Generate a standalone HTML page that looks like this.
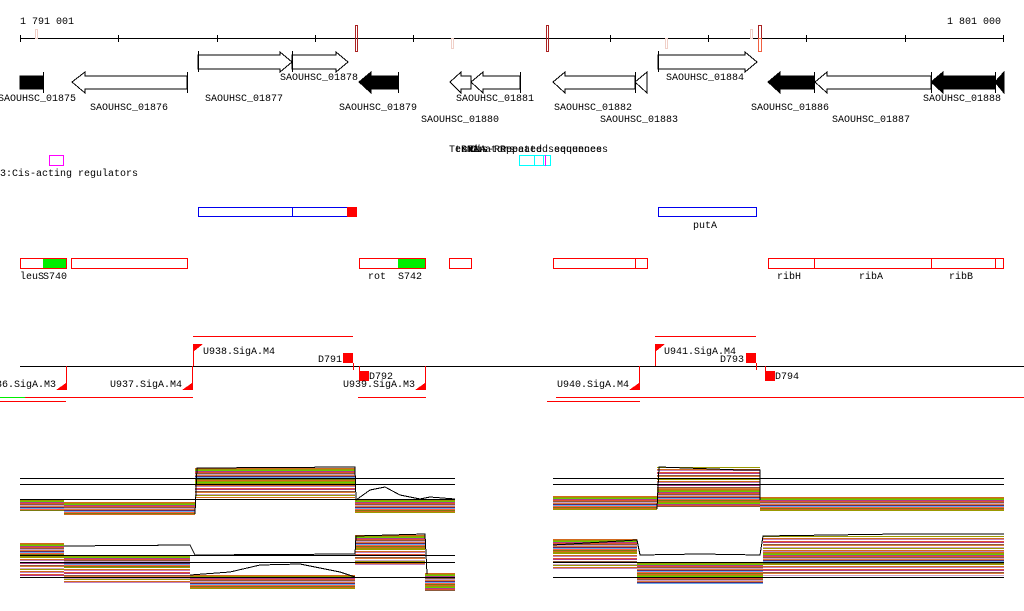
<!DOCTYPE html>
<html><head><meta charset="utf-8">
<style>
html,body{margin:0;padding:0;background:#fff;}
#w{position:relative;width:1024px;height:611px;overflow:hidden;}
svg{position:absolute;left:0;top:0;}
text{font-family:"Liberation Mono",monospace;font-size:10px;fill:#000;}
.b{position:absolute;}
.s1{background:repeating-linear-gradient(to bottom,#d2691e 0 1px,#9a9a00 1px 2px,#66cc00 2px 3px,#b03a8a 3px 4px,#e05030 4px 5px,#8b5a3c 5px 6px,#c8a0c8 6px 7px,#e07b39 7px 8px,#5a2a6a 8px 9px,#66aaee 9px 10px,#ff6040 10px 11px,#7a7a10 11px 12px);}
.s2{background:repeating-linear-gradient(to bottom,#9a9a00 0 1px,#fff 1px 2px,#d2691e 2px 3px,#c080c0 3px 4px,#fff 4px 5px,#e05030 5px 6px,#b03a8a 6px 7px,#fff 7px 8px,#8b5a3c 8px 9px,#e07b39 9px 10px,#fff 10px 11px,#c8a0c8 11px 12px);}
</style></head><body><div id="w">
<div class="b s1" style="left:20px;top:499px;width:44px;height:12px"></div>
<div class="b s1" style="left:64px;top:502px;width:131px;height:13px"></div>
<div class="b s1" style="left:195px;top:468px;width:160px;height:15px"></div>
<div class="b s2" style="left:195px;top:483px;width:160px;height:15px"></div>
<div class="b s1" style="left:355px;top:499px;width:100px;height:14px"></div>
<div class="b s1" style="left:553px;top:496px;width:104px;height:14px"></div>
<div class="b s2" style="left:657px;top:467px;width:103px;height:22px"></div>
<div class="b s1" style="left:657px;top:489px;width:103px;height:18px"></div>
<div class="b s1" style="left:760px;top:497px;width:244px;height:14px"></div>

<div class="b s1" style="left:20px;top:543px;width:44px;height:14px"></div>
<div class="b s2" style="left:20px;top:557px;width:44px;height:19px"></div>
<div class="b s1" style="left:64px;top:555px;width:126px;height:12px"></div>
<div class="b s2" style="left:64px;top:567px;width:126px;height:16px"></div>
<div class="b s1" style="left:190px;top:575px;width:165px;height:14px"></div>
<div class="b s1" style="left:355px;top:535px;width:70px;height:14px"></div>
<div class="b s2" style="left:355px;top:549px;width:70px;height:17px"></div>
<div class="b s1" style="left:425px;top:573px;width:30px;height:18px"></div>
<div class="b s1" style="left:553px;top:539px;width:84px;height:14px"></div>
<div class="b s2" style="left:553px;top:553px;width:84px;height:16px"></div>
<div class="b s1" style="left:637px;top:562px;width:126px;height:22px"></div>
<div class="b s2" style="left:763px;top:536px;width:241px;height:16px"></div>
<div class="b s1" style="left:763px;top:552px;width:241px;height:12px"></div>
<div class="b s2" style="left:763px;top:564px;width:241px;height:12px"></div>

<svg width="1024" height="611" viewBox="0 0 1024 611" shape-rendering="crispEdges">
<g stroke="#000" stroke-width="1">
<line x1="20" y1="478.5" x2="455" y2="478.5"/><line x1="20" y1="484.5" x2="455" y2="484.5"/><line x1="20" y1="499.5" x2="455" y2="499.5"/>
<line x1="553" y1="478.5" x2="1004" y2="478.5"/><line x1="553" y1="484.5" x2="1004" y2="484.5"/>
<line x1="20" y1="555.5" x2="455" y2="555.5"/><line x1="20" y1="562.5" x2="455" y2="562.5"/><line x1="20" y1="577.5" x2="455" y2="577.5"/>
<line x1="553" y1="562.5" x2="1004" y2="562.5"/><line x1="553" y1="577.5" x2="1004" y2="577.5"/>
<polyline fill="none" points="195,514 197,468 355,467 356,500"/>
<polyline fill="none" points="356,500 370,490 385,487 400,495 420,499 430,497 455,499"/>
<polyline fill="none" points="657,509 659,467 740,470 760,470 760,500"/>
<polyline fill="none" points="64,546 190,545 195,555 355,554 356,536 425,534 427,574"/>
<polyline fill="none" points="190,575 230,572 260,565 300,564 340,572 355,577"/>
<polyline fill="none" points="553,545 637,540 640,555 700,554 760,555 763,536 900,534 1004,534"/>
</g>
<line x1="20" y1="38.5" x2="1004" y2="38.5" stroke="#000"/>
<g stroke="#000"><line x1="20.5" y1="35" x2="20.5" y2="42"/><line x1="118.5" y1="35" x2="118.5" y2="42"/><line x1="217.5" y1="35" x2="217.5" y2="42"/><line x1="315.5" y1="35" x2="315.5" y2="42"/><line x1="413.5" y1="35" x2="413.5" y2="42"/><line x1="610.5" y1="35" x2="610.5" y2="42"/><line x1="708.5" y1="35" x2="708.5" y2="42"/><line x1="806.5" y1="35" x2="806.5" y2="42"/><line x1="905.5" y1="35" x2="905.5" y2="42"/><line x1="1003.5" y1="35" x2="1003.5" y2="42"/></g>
<text x="20" y="24">1 791 001</text><text x="1001" y="24" text-anchor="end">1 801 000</text>
<g fill="none" stroke="#f0d0c8"><rect x="35.5" y="29.5" width="2" height="9"/><rect x="451.5" y="38.5" width="2" height="10"/><rect x="665.5" y="38.5" width="2" height="10"/><rect x="750.5" y="29.5" width="2" height="9"/></g>
<g fill="none" stroke="#aa2222"><rect x="355.5" y="25.5" width="2" height="26"/><rect x="546.5" y="25.5" width="2" height="26"/><rect x="758.5" y="25.5" width="3" height="13"/></g>
<rect x="758.5" y="38.5" width="3" height="13" fill="none" stroke="#f06040"/>
<g stroke="#000" fill="#fff">
<polygon points="198,55 280,55 280,52 292,62 280,72 280,69 198,69"/>
<polygon points="292,55 336,55 336,52 348,62 336,72 336,69 292,69"/>
<polygon points="658,55 745,55 745,52 757,62 745,72 745,69 658,69"/>
<line x1="198.5" y1="51" x2="198.5" y2="72"/><line x1="292.5" y1="51" x2="292.5" y2="72"/><line x1="658.5" y1="51" x2="658.5" y2="72"/>
<polygon points="187,76 85,76 85,72 72,82 85,93 85,89 187,89"/>
<polygon points="471,76 461,76 461,72 450,82 461,93 461,89 471,89"/>
<polygon points="520,76 483,76 483,72 471,82 483,93 483,89 520,89"/>
<polygon points="635,76 565,76 565,72 553,82 565,93 565,89 635,89"/>
<polygon points="647,72 635,82 647,93"/>
<polygon points="931,76 827,76 827,72 815,82 827,93 827,89 931,89"/>
<line x1="187.5" y1="72" x2="187.5" y2="93"/><line x1="520.5" y1="72" x2="520.5" y2="93"/><line x1="635.5" y1="72" x2="635.5" y2="93"/><line x1="931.5" y1="72" x2="931.5" y2="93"/>
</g>
<g fill="#000" stroke="#000">
<rect x="20" y="76" width="23" height="13"/><line x1="43.5" y1="72" x2="43.5" y2="93"/>
<polygon points="398,76 371,76 371,72 359,82 371,93 371,89 398,89"/><line x1="398.5" y1="72" x2="398.5" y2="93"/>
<polygon points="814,76 780,76 780,72 768,82 780,93 780,89 814,89"/><line x1="814.5" y1="72" x2="814.5" y2="93"/>
<polygon points="995,76 943,76 943,72 931,82 943,93 943,89 995,89"/><line x1="995.5" y1="72" x2="995.5" y2="93"/>
<polygon points="1004,72 995,82 1004,93"/>
</g>
<text x="-2" y="101">SAOUHSC_01875</text><text x="90" y="110">SAOUHSC_01876</text><text x="205" y="101">SAOUHSC_01877</text><text x="280" y="80">SAOUHSC_01878</text><text x="339" y="110">SAOUHSC_01879</text><text x="421" y="122">SAOUHSC_01880</text><text x="456" y="101">SAOUHSC_01881</text><text x="554" y="110">SAOUHSC_01882</text><text x="600" y="122">SAOUHSC_01883</text><text x="666" y="80">SAOUHSC_01884</text><text x="751" y="110">SAOUHSC_01886</text><text x="832" y="122">SAOUHSC_01887</text><text x="923" y="101">SAOUHSC_01888</text>
<text x="449" y="152">Terminators</text><text x="455" y="152">tRNA</text><text x="462" y="152">sRNA</text><text x="470" y="152">Cis-Repeated sequences</text><text x="500" y="152">Repeated sequences</text>
<rect x="519.5" y="155.5" width="31" height="10" fill="none" stroke="#00ffff"/><line x1="534.5" y1="155" x2="534.5" y2="166" stroke="#00ffff"/><line x1="543.5" y1="155" x2="543.5" y2="166" stroke="#00ffff"/><line x1="545.5" y1="155" x2="545.5" y2="166" stroke="#ff00ff"/>
<rect x="49.5" y="155.5" width="14" height="10" fill="none" stroke="#ff00ff"/>
<text x="0" y="176">3:Cis-acting regulators</text>
<g fill="none" stroke="#0000ee"><rect x="198.5" y="207.5" width="158" height="9"/><line x1="292.5" y1="207" x2="292.5" y2="217"/><rect x="658.5" y="207.5" width="98" height="9"/></g>
<rect x="347" y="207" width="10" height="10" fill="#ff0000"/>
<text x="693" y="228">putA</text>
<rect x="43" y="258" width="24" height="11" fill="#00ee00"/><rect x="398" y="258" width="27" height="11" fill="#00ee00"/>
<g fill="none" stroke="#ff0000"><rect x="20.5" y="258.5" width="46" height="10"/><rect x="71.5" y="258.5" width="116" height="10"/><rect x="359.5" y="258.5" width="66" height="10"/><rect x="449.5" y="258.5" width="22" height="10"/><rect x="553.5" y="258.5" width="94" height="10"/><line x1="635.5" y1="258" x2="635.5" y2="269"/><rect x="768.5" y="258.5" width="235" height="10"/><line x1="814.5" y1="258" x2="814.5" y2="269"/><line x1="931.5" y1="258" x2="931.5" y2="269"/><line x1="995.5" y1="258" x2="995.5" y2="269"/></g>
<text x="20" y="279">leuS</text><text x="43" y="279">S740</text><text x="368" y="279">rot</text><text x="398" y="279">S742</text><text x="777" y="279">ribH</text><text x="859" y="279">ribA</text><text x="949" y="279">ribB</text>
<line x1="20" y1="366.5" x2="1024" y2="366.5" stroke="#000"/>
<g stroke="#ff0000"><line x1="193" y1="336.5" x2="353" y2="336.5"/><line x1="655" y1="336.5" x2="756" y2="336.5"/>
<line x1="25" y1="397.5" x2="193" y2="397.5"/><line x1="358" y1="397.5" x2="426" y2="397.5"/><line x1="556" y1="397.5" x2="1024" y2="397.5"/>
<line x1="0" y1="401.5" x2="66" y2="401.5"/><line x1="547" y1="401.5" x2="640" y2="401.5"/>
<line x1="193.5" y1="344" x2="193.5" y2="366"/><line x1="655.5" y1="344" x2="655.5" y2="366"/>
<line x1="66.5" y1="366" x2="66.5" y2="390"/><line x1="192.5" y1="366" x2="192.5" y2="390"/><line x1="425.5" y1="366" x2="425.5" y2="390"/><line x1="639.5" y1="366" x2="639.5" y2="390"/>
<line x1="353.5" y1="363" x2="353.5" y2="370"/><line x1="756.5" y1="363" x2="756.5" y2="370"/><line x1="359.5" y1="366" x2="359.5" y2="372"/><line x1="765.5" y1="366" x2="765.5" y2="372"/>
</g>
<line x1="0" y1="397.5" x2="25" y2="397.5" stroke="#00ee00"/>
<g fill="#ff0000"><polygon points="193,344 203,344 193,352"/><polygon points="655,344 665,344 655,352"/>
<polygon points="66,383 66,390 56,390"/><polygon points="192,383 192,390 182,390"/><polygon points="425,383 425,390 415,390"/><polygon points="639,383 639,390 629,390"/>
<rect x="343" y="353" width="10" height="10"/><rect x="746" y="353" width="10" height="10"/><rect x="359" y="371" width="10" height="10"/><rect x="765" y="371" width="10" height="10"/></g>
<text x="203" y="354">U938.SigA.M4</text><text x="664" y="354">U941.SigA.M4</text>
<text x="318" y="362">D791</text><text x="720" y="362">D793</text><text x="369" y="379">D792</text><text x="775" y="379">D794</text>
<text x="56" y="387" text-anchor="end">36.SigA.M3</text><text x="182" y="387" text-anchor="end">U937.SigA.M4</text><text x="415" y="387" text-anchor="end">U939.SigA.M3</text><text x="629" y="387" text-anchor="end">U940.SigA.M4</text>
</svg>
</div></body></html>
